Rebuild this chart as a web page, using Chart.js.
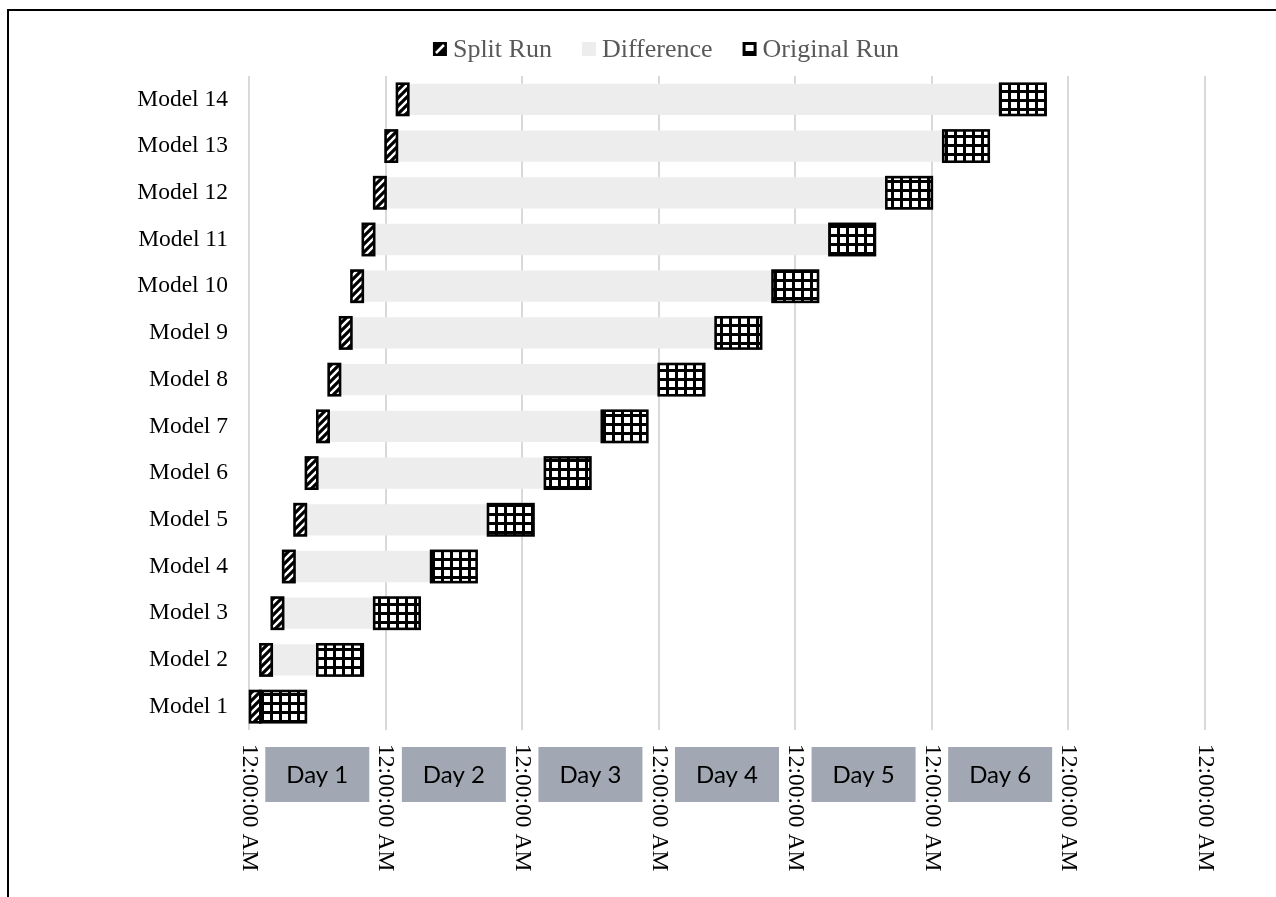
<!DOCTYPE html>
<html>
<head>
<meta charset="utf-8">
<title>Split Run vs Original Run</title>
<script src="https://cdn.jsdelivr.net/npm/chart.js@4/dist/chart.umd.min.js"></script>
<style>
  html, body { margin: 0; padding: 0; background: #fff; }
  #wrap { width: 1276px; height: 897px; position: relative; }
</style>
</head>
<body>
<div id="wrap"><canvas id="chart" width="1276" height="897"></canvas></div>
<script>
// Models, bottom to top
const categories = ['Model 1', 'Model 2', 'Model 3', 'Model 4', 'Model 5', 'Model 6', 'Model 7',
                    'Model 8', 'Model 9', 'Model 10', 'Model 11', 'Model 12', 'Model 13', 'Model 14'];

// Durations in hours
const splitStart  = [0, 2, 4, 6, 8, 10, 12, 14, 16, 18, 20, 22, 24, 26];
const splitRun    = [2, 2, 2, 2, 2, 2, 2, 2, 2, 2, 2, 2, 2, 2];
const difference  = [0, 8, 16, 24, 32, 40, 48, 56, 64, 72, 80, 88, 96, 104];
const originalRun = [8, 8, 8, 8, 8, 8, 8, 8, 8, 8, 8, 8, 8, 8];

// Time axis (hours) and its labels
const timeTicks = [0, 24, 48, 72, 96, 120, 144, 168];
const timeTickLabels = ['12:00:00 AM', '12:00:00 AM', '12:00:00 AM', '12:00:00 AM',
                        '12:00:00 AM', '12:00:00 AM', '12:00:00 AM', '12:00:00 AM'];
const dayLabels = ['Day 1', 'Day 2', 'Day 3', 'Day 4', 'Day 5', 'Day 6'];

const canvas = document.getElementById('chart');
const ctx = canvas.getContext('2d');

function makeStripePattern() {
  const c = document.createElement('canvas');
  c.width = 8; c.height = 8;
  const g = c.getContext('2d');
  g.fillStyle = '#fff';
  g.fillRect(0, 0, 8, 8);
  g.strokeStyle = '#000';
  g.lineWidth = 3.2;
  g.beginPath();
  g.moveTo(-2, 10); g.lineTo(10, -2);
  g.moveTo(-2, 2); g.lineTo(2, -2);
  g.moveTo(6, 10); g.lineTo(10, 6);
  g.stroke();
  return ctx.createPattern(c, 'repeat');
}

function makeGridPattern() {
  const c = document.createElement('canvas');
  c.width = 9; c.height = 9;
  const g = c.getContext('2d');
  g.fillStyle = '#fff';
  g.fillRect(0, 0, 9, 9);
  g.fillStyle = '#000';
  g.fillRect(0, 0, 9, 3);
  g.fillRect(0, 0, 3, 9);
  return ctx.createPattern(c, 'repeat');
}

const stripe = makeStripePattern();
const grid = makeGridPattern();

const SERIF = '"Liberation Serif", "Times New Roman", serif';
const OUTLINED = ['Split Run', 'Original Run'];

// Outline for patterned bars, stroked centred on the bar edges
const barOutline = {
  id: 'barOutline',
  afterDatasetsDraw(chart) {
    const c = chart.ctx;
    c.save();
    c.strokeStyle = '#000';
    c.lineWidth = 2.6;
    c.lineJoin = 'miter';
    chart.data.datasets.forEach((ds, i) => {
      if (!OUTLINED.includes(ds.label)) return;
      chart.getDatasetMeta(i).data.forEach(el => {
        const p = el.getProps(['x', 'y', 'base', 'height'], true);
        const left = Math.min(p.x, p.base), right = Math.max(p.x, p.base);
        c.strokeRect(left, p.y - p.height / 2, right - left, p.height);
      });
    });
    c.restore();
  }
};

const decorations = {
  id: 'decorations',
  afterDraw(chart) {
    const c = chart.ctx;
    const xs = chart.scales.x;
    c.save();

    // frame lines
    c.fillStyle = '#000';
    c.fillRect(7, 9, 1276 - 7, 2);
    c.fillRect(7, 9, 2, 897 - 9);

    // legend
    const items = [
      { text: 'Split Run', kind: 'split' },
      { text: 'Difference', kind: 'diff' },
      { text: 'Original Run', kind: 'orig' }
    ];
    c.font = '26px ' + SERIF;
    const box = 14, gapText = 6, gapItem = 30;
    let total = 0;
    items.forEach((it, i) => {
      it.w = c.measureText(it.text).width;
      total += box + gapText + it.w + (i < items.length - 1 ? gapItem : 0);
    });
    let x = 666 - total / 2;
    const cy = 49;
    items.forEach(it => {
      const by = cy - box / 2;
      if (it.kind === 'split') {
        c.fillStyle = '#000';
        c.fillRect(x, by, box, box);
        c.strokeStyle = '#fff';
        c.lineWidth = 2.5;
        c.beginPath();
        c.moveTo(x + 3, by + box - 3);
        c.lineTo(x + box - 3, by + 3);
        c.stroke();
      } else if (it.kind === 'diff') {
        c.fillStyle = '#EDEDED';
        c.fillRect(x, by, box, box);
      } else {
        c.fillStyle = '#000';
        c.fillRect(x, by, box, box);
        c.fillStyle = '#fff';
        c.fillRect(x + 3, by + 3, box - 6, box - 8);
      }
      c.fillStyle = '#595959';
      c.textAlign = 'left';
      c.textBaseline = 'middle';
      c.fillText(it.text, x + box + gapText, cy + 1);
      x += box + gapText + it.w + gapItem;
    });

    // rotated time labels under each gridline
    c.fillStyle = '#000';
    c.font = '23.5px ' + SERIF;
    c.textAlign = 'left';
    c.textBaseline = 'middle';
    timeTicks.forEach((t, i) => {
      const px = xs.getPixelForValue(t);
      c.save();
      c.translate(px, 744);
      c.rotate(Math.PI / 2);
      c.fillText(timeTickLabels[i], 0, 0);
      c.restore();
    });

    // day boxes between consecutive gridlines
    c.font = '24px Lato, "Open Sans", sans-serif';
    c.textAlign = 'center';
    dayLabels.forEach((d, i) => {
      const mid = (xs.getPixelForValue(timeTicks[i]) + xs.getPixelForValue(timeTicks[i + 1])) / 2;
      const w = 104, h = 55, top = 747;
      c.fillStyle = '#A1A8B3';
      c.fillRect(mid - w / 2, top, w, h);
      c.fillStyle = '#000';
      c.textBaseline = 'middle';
      c.fillText(d, mid, top + h / 2 + 1);
    });

    c.restore();
  }
};

new Chart(canvas, {
  type: 'bar',
  data: {
    labels: categories,
    datasets: [
      { label: 'Start', data: splitStart, backgroundColor: 'rgba(0,0,0,0)', borderWidth: 0 },
      { label: 'Split Run', data: splitRun, backgroundColor: stripe, borderWidth: 0 },
      { label: 'Difference', data: difference, backgroundColor: '#EDEDED', borderWidth: 0 },
      { label: 'Original Run', data: originalRun, backgroundColor: grid, borderWidth: 0 }
    ]
  },
  options: {
    indexAxis: 'y',
    responsive: false,
    animation: false,
    datasets: { bar: { categoryPercentage: 1, barPercentage: 0.67 } },
    layout: { padding: { top: 76, right: 71, left: 0, bottom: 0 } },
    plugins: { legend: { display: false }, tooltip: { enabled: false } },
    scales: {
      x: {
        stacked: true,
        min: 0,
        max: 168,
        ticks: { display: false, stepSize: 24 },
        grid: { color: '#D9D9D9', lineWidth: 2, drawTicks: false },
        border: { display: false },
        afterFit: s => { s.height = 167; }
      },
      y: {
        stacked: true,
        reverse: true,
        grid: { display: false, drawTicks: false },
        border: { display: false },
        ticks: { color: '#000', padding: 21, font: { family: SERIF, size: 23.5 } },
        afterFit: s => { s.width = 249; }
      }
    }
  },
  plugins: [barOutline, decorations]
});
</script>
</body>
</html>
